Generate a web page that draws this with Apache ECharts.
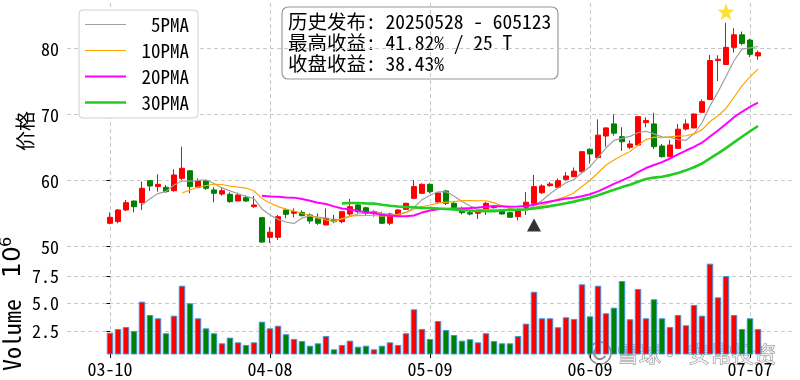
<!DOCTYPE html>
<html><head><meta charset="utf-8">
<script src="https://cdn.jsdelivr.net/npm/echarts@6/dist/echarts.min.js"></script>
<style>html,body{margin:0;padding:0;background:#fff}#c{width:800px;height:380px}</style>
</head><body><div id="c"></div>
<script>
const dates = ['2025-03-10','2025-03-11','2025-03-12','2025-03-13','2025-03-14','2025-03-17','2025-03-18','2025-03-19','2025-03-20','2025-03-21','2025-03-24','2025-03-25','2025-03-26','2025-03-27','2025-03-28','2025-03-31','2025-04-01','2025-04-02','2025-04-03','2025-04-07','2025-04-08','2025-04-09','2025-04-10','2025-04-11','2025-04-14','2025-04-15','2025-04-16','2025-04-17','2025-04-18','2025-04-21','2025-04-22','2025-04-23','2025-04-24','2025-04-25','2025-04-28','2025-04-29','2025-04-30','2025-05-06','2025-05-07','2025-05-08','2025-05-09','2025-05-12','2025-05-13','2025-05-14','2025-05-15','2025-05-16','2025-05-19','2025-05-20','2025-05-21','2025-05-22','2025-05-23','2025-05-26','2025-05-27','2025-05-28','2025-05-29','2025-05-30','2025-06-03','2025-06-04','2025-06-05','2025-06-06','2025-06-09','2025-06-10','2025-06-11','2025-06-12','2025-06-13','2025-06-16','2025-06-17','2025-06-18','2025-06-19','2025-06-20','2025-06-23','2025-06-24','2025-06-25','2025-06-26','2025-06-27','2025-06-30','2025-07-01','2025-07-02','2025-07-03','2025-07-04','2025-07-07','2025-07-08'];
const openP = [53.55,53.8,55.56,56.92,56.67,60.0,59.1,59.0,58.48,60.36,61.5,59.0,59.95,58.6,57.98,57.94,56.92,57.43,56.06,54.4,51.42,51.42,55.56,55.06,55.2,54.8,54.3,53.29,54.15,53.79,54.95,56.32,55.9,55.06,54.95,53.55,54.8,55.66,57.33,58.09,59.45,56.77,58.44,56.57,55.66,55.15,55.06,55.66,56.06,55.46,55.15,54.55,55.97,56.57,58.18,59.24,59.0,60.2,60.6,61.36,64.76,63.5,66.77,68.6,66.67,65.06,65.4,68.8,68.6,65.26,63.64,64.9,67.83,68.0,70.36,72.3,78.2,77.6,80.2,82.1,81.3,78.9];
const closeP = [54.45,55.56,56.67,56.06,58.85,59.2,59.45,58.33,60.86,61.88,59.1,60.0,58.85,58.09,58.48,56.82,57.83,56.92,56.32,50.7,52.2,54.55,54.9,55.3,54.7,53.9,53.55,54.3,53.79,55.3,56.06,55.3,55.06,55.3,53.55,54.95,55.56,56.57,59.1,59.45,58.33,58.14,56.57,55.97,55.15,54.95,55.4,56.57,55.9,54.95,54.45,55.56,56.73,59.1,59.2,59.5,60.0,60.71,61.45,64.4,64.05,66.9,68.0,67.2,65.9,65.56,69.7,69.1,65.15,63.64,65.4,67.8,68.6,70.1,71.97,78.2,78.4,80.2,82.1,80.8,79.15,79.4];
const lowP = [53.4,53.55,55.4,55.2,55.56,58.44,58.33,58.18,58.33,60.1,58.09,58.85,58.6,56.73,57.73,56.67,56.9,56.8,55.9,50.6,50.56,51.0,54.3,54.45,54.6,53.5,53.3,53.29,53.55,53.55,54.5,55.06,54.8,54.55,53.45,53.29,54.55,55.56,57.2,58.0,58.09,56.6,56.3,55.8,54.9,54.75,54.2,54.8,55.8,54.85,54.4,54.0,54.8,56.4,58.0,59.1,58.9,60.0,60.55,61.2,62.6,63.4,65.15,66.8,64.5,64.8,65.3,68.1,64.8,63.5,63.64,64.8,67.6,67.9,70.3,72.3,75.1,77.6,79.4,80.5,78.7,78.3];
const highP = [55.2,55.7,57.08,56.95,59.85,60.1,60.97,59.35,61.73,65.15,61.6,60.36,60.1,59.0,59.0,58.23,58.18,57.8,57.68,54.45,53.0,54.8,55.8,55.8,55.5,55.06,55.06,55.8,54.8,55.3,57.22,56.57,56.06,55.56,55.3,55.15,55.66,56.67,60.1,59.6,59.6,58.3,58.6,56.8,56.06,55.46,55.5,56.8,56.3,55.56,55.3,55.8,58.3,60.86,59.45,59.8,60.35,61.3,62.0,64.4,64.9,69.3,68.05,70.06,68.1,66.1,69.8,69.6,70.3,65.56,66.2,68.6,69.3,70.2,72.3,79.05,79.0,83.9,83.1,82.6,81.5,79.7];
const volumeM = [2.34,2.68,2.86,2.5,5.18,3.96,3.66,2.29,3.9,6.64,5.03,3.66,2.74,2.29,1.37,1.89,1.46,1.22,1.46,3.35,2.74,2.98,2.2,1.77,1.58,1.15,1.37,2.04,0.82,1.22,1.61,1.06,1.15,0.82,1.15,1.46,1.22,2.29,4.48,2.68,1.77,3.41,2.59,2.13,1.61,1.74,1.46,2.29,1.58,1.37,1.37,2.04,3.17,6.09,3.66,3.66,2.84,3.75,3.6,6.77,3.84,6.64,4.12,4.63,7.07,3.57,6.34,3.66,5.4,3.66,2.86,3.96,3.02,4.88,3.9,8.66,5.58,7.53,3.96,2.68,3.66,2.68];
const maPeriods = [5, 10, 20, 30];
const maNames = ['5PMA', '10PMA', '20PMA', '30PMA'];
const xTickIdx = [0, 20, 40, 60, 80];
const priceTicks = [50, 60, 70, 80];
const volTicks = [2.5, 5.0, 7.5];
const releaseMark = [53, 53.3];
const peakMark = [77, 85.6];
const infoLines = ['历史发布: 20250528 - 605123', '最高收益: 41.82% / 25 T', '收盘收益: 38.43%'];

const MONO = "'Noto Sans Mono CJK SC','Noto Sans CJK SC',sans-serif";
const maColors = ['#a0a0a0', '#ffa500', '#ff00ff', '#22cc22'];
const maWidths = [1.2, 1.2, 2, 2.6];
const gridLine = { show: true, lineStyle: { color: '#c8c8c8', type: [4, 3], width: 1 } };

function movingAvg(n) {
  const out = [];
  for (let i = n - 1; i < closeP.length; i++) {
    let s = 0;
    for (let j = i - n + 1; j <= i; j++) s += closeP[j];
    out.push([i, +(s / n).toFixed(3)]);
  }
  return out;
}

const chart = echarts.init(document.getElementById('c'), null, { renderer: 'canvas' });
const xMin = -5.375, xMax = 85.625;

const series = [
  {
    type: 'candlestick', name: 'K', xAxisIndex: 0, yAxisIndex: 0,
    data: dates.map((d, i) => [i, openP[i], closeP[i], lowP[i], highP[i]]),
    encode: { x: 0, y: [1, 2, 3, 4] },
    barWidth: 5,
    itemStyle: { color: '#ff0000', color0: '#008000', borderColor: '#ff0000', borderColor0: '#008000', borderWidth: 1 },
    silent: true
  }
];
maPeriods.forEach((n, k) => {
  series.push({
    type: 'line', name: maNames[k], xAxisIndex: 0, yAxisIndex: 0,
    data: movingAvg(n), symbol: 'none', showSymbol: false, color: maColors[k],
    lineStyle: { color: maColors[k], width: maWidths[k] }, silent: true, z: 3
  });
});
series.push({
  type: 'bar', name: 'Volume', xAxisIndex: 1, yAxisIndex: 1, barWidth: 6.5,
  data: volumeM.map((v, i) => ({ value: [i, v], itemStyle: { color: closeP[i] >= openP[i] ? '#ff0000' : '#008000' } })),
  itemStyle: { borderColor: '#3b97e3', borderWidth: 1 }, silent: true
});
series.push({
  type: 'scatter', name: 'release', xAxisIndex: 0, yAxisIndex: 0,
  data: [releaseMark], symbol: 'triangle', symbolSize: [14, 13], itemStyle: { color: '#000' }, silent: true, z: 5
});
series.push({
  type: 'scatter', name: 'peak', xAxisIndex: 0, yAxisIndex: 0,
  data: [peakMark], symbol: 'path://M12,0 L14.9,8.1 L23.4,8.2 L16.6,13.4 L19.1,21.6 L12,16.7 L4.9,21.6 L7.4,13.4 L0.6,8.2 L9.1,8.1 Z',
  symbolSize: 17, itemStyle: { color: '#ffd700' }, silent: true, z: 5
});

const tickLabel = { fontFamily: MONO, fontSize: 18, color: '#000' };
const wmStyle = { fontFamily: 'Noto Sans CJK SC', fontSize: 22, fill: 'rgba(255,255,255,0.75)', stroke: 'rgba(120,120,120,0.85)', lineWidth: 1, verticalAlign: 'middle' };

chart.setOption({
  animation: false,
  backgroundColor: '#fff',
  grid: [
    { left: 67, width: 728, top: 3, height: 252 },
    { left: 67, width: 728, top: 256, height: 98 }
  ],
  xAxis: [
    { type: 'value', gridIndex: 0, min: xMin, max: xMax, axisLine: { show: false },
      axisTick: { show: false, customValues: xTickIdx }, axisLabel: { show: false, customValues: xTickIdx }, splitLine: gridLine },
    { type: 'value', gridIndex: 1, min: xMin, max: xMax, axisLine: { show: false },
      axisTick: { show: true, length: 4, customValues: xTickIdx, lineStyle: { color: '#000' } },
      axisLabel: Object.assign({ show: true, customValues: xTickIdx, margin: 6, formatter: v => dates[Math.round(v)].slice(5) }, tickLabel),
      splitLine: gridLine }
  ],
  yAxis: [
    { type: 'value', gridIndex: 0, min: 48.74, max: 86.92, axisLine: { show: false },
      axisTick: { show: true, length: 3.5, customValues: priceTicks, lineStyle: { color: '#000' } },
      axisLabel: Object.assign({ customValues: priceTicks, margin: 8, formatter: v => String(v) }, tickLabel),
      splitLine: gridLine },
    { type: 'value', gridIndex: 1, min: 0.39, max: 9.36, axisLine: { show: false },
      axisTick: { show: true, length: 3.5, customValues: volTicks, lineStyle: { color: '#000' } },
      axisLabel: Object.assign({ customValues: volTicks, margin: 8, formatter: v => v.toFixed(1) }, tickLabel),
      splitLine: gridLine }
  ],
  legend: {
    data: maNames.map((n, k) => ({ name: n, icon: 'path://M0,0H40V' + maWidths[k] + 'H0Z' })),
    orient: 'vertical', left: 79, top: 10, padding: [5, 9, 6, 6],
    itemWidth: 41, itemHeight: 14, itemGap: 7,
    backgroundColor: '#fff', borderColor: '#cfcfcf', borderWidth: 1, borderRadius: 4,
    itemStyle: { borderWidth: 0 }, selectedMode: false,
    formatter: n => '{a|' + n + '}',
    textStyle: { fontSize: 19, fontFamily: MONO,
      rich: { a: { width: 58, align: 'right', fontSize: 19, fontFamily: MONO, color: '#000' } } }
  },
  graphic: [
    { type: 'text', x: 25, y: 131, rotation: Math.PI / 2,
      style: { text: '价格', fontSize: 20, fontFamily: 'Noto Sans CJK SC', fill: '#000', align: 'center', verticalAlign: 'middle' } },
    { type: 'text', x: 12, y: 335, rotation: Math.PI / 2,
      style: { text: 'Volume', fontSize: 24, fontFamily: MONO, fill: '#000', align: 'center', verticalAlign: 'middle' } },
    { type: 'text', x: 13, y: 262, rotation: Math.PI / 2,
      style: { text: '10', fontSize: 25, fontFamily: 'DejaVu Sans', fill: '#000', align: 'center', verticalAlign: 'middle' } },
    { type: 'text', x: 7, y: 242, rotation: Math.PI / 2,
      style: { text: '6', fontSize: 16, fontFamily: 'DejaVu Sans', fill: '#000', align: 'center', verticalAlign: 'middle' } },
    { type: 'group', z: 100, children: [
      { type: 'rect', shape: { x: 282, y: 7, width: 276, height: 72, r: 6 },
        style: { fill: '#fff', stroke: '#999', lineWidth: 1.2 } },
      { type: 'text', x: 288, y: 11,
        style: { text: infoLines.join('\n'), fontSize: 19.5, lineHeight: 21, fontFamily: MONO, fill: '#000', align: 'left', verticalAlign: 'top' } }
    ] },
    { type: 'group', z: 100, children: [
      { type: 'circle', shape: { cx: 600, cy: 353, r: 11 }, style: { fill: 'rgba(255,255,255,0.6)', stroke: 'rgba(120,120,120,0.85)', lineWidth: 1.5 } },
      { type: 'arc', shape: { cx: 600, cy: 353, r: 6, startAngle: 0.5, endAngle: 4.2 }, style: { fill: null, stroke: 'rgba(120,120,120,0.85)', lineWidth: 2 } },
      { type: 'text', x: 617, y: 354, style: Object.assign({ text: '雪球', align: 'left' }, wmStyle) },
      { type: 'text', x: 670, y: 354, style: Object.assign({ text: '·', align: 'center' }, wmStyle) },
      { type: 'text', x: 688, y: 354, style: Object.assign({ text: '安常投资', align: 'left' }, wmStyle) }
    ] }
  ],
  series: series
});
</script></body></html>
